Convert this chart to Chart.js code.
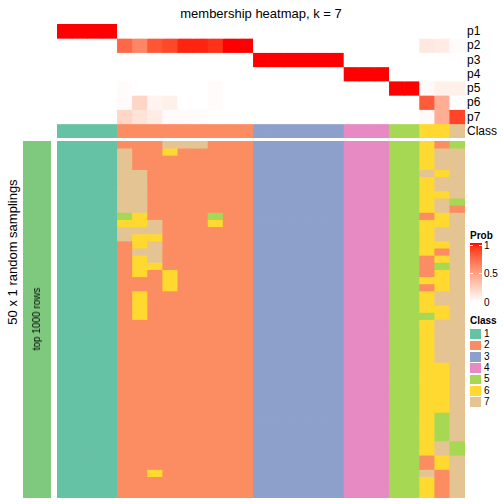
<!DOCTYPE html>
<html><head><meta charset="utf-8">
<script src="https://cdn.jsdelivr.net/npm/chart.js@4/dist/chart.umd.min.js"></script>
<style>
html,body{margin:0;padding:0;background:#fff;}
#root{position:relative;width:504px;height:504px;overflow:hidden;font-family:"Liberation Sans",Arial,Helvetica,sans-serif;color:#000;}
canvas{position:absolute;display:block;}
.t{position:absolute;white-space:nowrap;}
</style></head><body><div id="root">
<canvas id="top" width="408" height="114" style="left:57px;top:24px;width:408px;height:114px"></canvas>
<canvas id="main" width="408" height="357" style="left:57px;top:141px;width:408px;height:357px"></canvas>
<canvas id="strip" width="28" height="357" style="left:23px;top:141px;width:28px;height:357px"></canvas>
</div>
<script>
// ---------- data ----------
const columns = ["s1","s2","s3","s4","s5","s6","s7","s8","s9","s10","s11","s12","s13","s14","s15","s16","s17","s18","s19","s20","s21","s22","s23","s24","s25","s26","s27"];
const probRowNames = ["p1","p2","p3","p4","p5","p6","p7"];
const p1 = [1,1,1,1, 0,0,0,0,0,0,0,0,0, 0,0,0,0,0,0, 0,0,0, 0,0, 0,0,0];
const p2 = [0,0,0,0, 0.75,0.62,0.82,0.87,0.96,0.96,0.93,1,1, 0,0,0,0,0,0, 0,0,0, 0,0, 0.12,0.1,0.02];
const p3 = [0,0,0,0, 0,0,0,0,0,0,0,0,0, 1,1,1,1,1,1, 0,0,0, 0,0, 0,0,0];
const p4 = [0,0,0,0, 0,0,0,0,0,0,0,0,0, 0,0,0,0,0,0, 1,1,1, 0,0, 0,0,0];
const p5 = [0,0,0,0, 0.02,0,0,0,0,0,0.02,0,0, 0,0,0,0,0,0, 0,0,0, 1,1, 0.03,0.08,0.08];
const p6 = [0,0,0,0, 0.02,0.22,0.06,0.08,0,0,0.02,0,0, 0,0,0,0,0,0, 0,0,0, 0,0, 0.8,0.42,0];
const p7 = [0,0,0,0, 0.21,0.15,0.1,0.02,0.02,0.02,0,0,0, 0,0,0,0,0,0, 0,0,0, 0,0, 0.03,0.42,0.88];
const sampleClass = [1,1,1,1, 2,2,2,2,2,2,2,2,2, 3,3,3,3,3,3, 4,4,4, 5,5, 6,6, 7];
// 50 random samplings (rows), one class digit per column
const samplings = [
"111122277722233333344455625",
"111172262222233333344455677",
"111172222222233333344455677",
"111172222222233333344455677",
"111177222222233333344455767",
"111177222222233333344455677",
"111177222222233333344455677",
"111177222222233333344455667",
"111177222222233333344455675",
"111177222222233333344455672",
"111156222252233333344455267",
"111166722262233333344455667",
"111177722222233333344455677",
"111176622222233333344455677",
"111126722222233333344455667",
"111127722222233333344455627",
"111126722222233333344455267",
"111126622222233333344455257",
"111126262222233333344455267",
"111122262222233333344455667",
"111122262222233333344455267",
"111126222222233333344455677",
"111126222222233333344455677",
"111126222222233333344455667",
"111126222222233333344455567",
"111122222222233333344455677",
"111122222222233333344455677",
"111122222222233333344455677",
"111122222222233333344455677",
"111122222222233333344455677",
"111122222222233333344455677",
"111122222222233333344455667",
"111122222222233333344455667",
"111122222222233333344455667",
"111122222222233333344455667",
"111122222222233333344455667",
"111122222222233333344455667",
"111122222222233333344455667",
"111122222222233333344455657",
"111122222222233333344455657",
"111122222222233333344455657",
"111122222222233333344455657",
"111122222222233333344455675",
"111122222222233333344455675",
"111122222222233333344455267",
"111122222222233333344455267",
"111122622222233333344455727",
"111122222222233333344455627",
"111122222222233333344455627",
"111122222222233333344455627"
];
const classLabels = ["1","2","3","4","5","6","7"];
const classColors = ["#66C2A5","#FC8D62","#8DA0CB","#E78AC3","#A6D854","#FFD92F","#E5C494"];
const probTicks = [1, 0.5, 0];
const stripLabel = "top 1000 rows";
const titleText = "membership heatmap, k = 7";
const sideTitle = "50 x 1 random samplings";

// ---------- colour helpers (white -> red in LAB space) ----------
function s2l(c){c/=255;return c<=0.04045?c/12.92:Math.pow((c+0.055)/1.055,2.4);}
function l2s(c){c=Math.max(0,Math.min(1,c));const v=c<=0.0031308?12.92*c:1.055*Math.pow(c,1/2.4)-0.055;return Math.round(Math.max(0,Math.min(1,v))*255);}
function toLab(rgb){const R=s2l(rgb[0]),G=s2l(rgb[1]),B=s2l(rgb[2]);
 const X=(0.4124*R+0.3576*G+0.1805*B)/0.95047,Y=0.2126*R+0.7152*G+0.0722*B,Z=(0.0193*R+0.1192*G+0.9505*B)/1.08883;
 const f=t=>t>0.008856?Math.cbrt(t):(7.787*t+16/116);const fx=f(X),fy=f(Y),fz=f(Z);
 return [116*fy-16,500*(fx-fy),200*(fy-fz)];}
function fromLab(lab){const fy=(lab[0]+16)/116,fx=fy+lab[1]/500,fz=fy-lab[2]/200;
 const fi=t=>{const t3=t*t*t;return t3>0.008856?t3:(t-16/116)/7.787;};
 const X=0.95047*fi(fx),Y=fi(fy),Z=1.08883*fi(fz);
 return [l2s(3.2406*X-1.5372*Y-0.4986*Z),l2s(-0.9689*X+1.8758*Y+0.0415*Z),l2s(0.0557*X-0.2040*Y+1.0570*Z)];}
const LAB0=toLab([255,255,255]), LAB1=toLab([255,0,0]);
function probColor(v){const lab=LAB0.map((a,i)=>a+(LAB1[i]-a)*v);const c=fromLab(lab);return `rgb(${c[0]},${c[1]},${c[2]})`;}
const clsColor = d => classColors[classLabels.indexOf(String(d))];

// ---------- charts ----------
function heat(id, labels, datasets, nRows){
 return new Chart(document.getElementById(id),{
  type:'bar',
  data:{labels, datasets},
  options:{
   responsive:false, animation:false, devicePixelRatio:1, events:[],
   layout:{padding:0},
   plugins:{legend:{display:false},tooltip:{enabled:false},title:{display:false}},
   datasets:{bar:{barPercentage:1,categoryPercentage:1,borderWidth:0,inflateAmount:0.4}},
   scales:{
    x:{display:false,stacked:true},
    y:{display:false,stacked:true,min:0,max:nRows,reverse:true}
   }
  }
 });
}
const probRows=[p1,p2,p3,p4,p5,p6,p7];
const topSets = probRows.map((vals,i)=>({label:probRowNames[i],data:vals.map(()=>1),backgroundColor:vals.map(probColor)}));
topSets.push({label:"Class",data:sampleClass.map(()=>1),backgroundColor:sampleClass.map(clsColor)});
heat('top', columns, topSets, topSets.length);

const mainSets = samplings.map((row,r)=>{const cls=row.split('');return {label:'sampling '+(r+1),data:cls.map(()=>1),backgroundColor:cls.map(clsColor)};});
heat('main', columns, mainSets, samplings.length);

heat('strip', [stripLabel], [{label:stripLabel,data:[1],backgroundColor:'#7FC97F'}], 1);

// ---------- text & legends ----------
const root=document.getElementById('root');
function txt(s, css){const d=document.createElement('div');d.className='t';d.textContent=s;Object.assign(d.style,css);root.appendChild(d);return d;}
txt(titleText,{left:'261px',top:'6.5px',fontSize:'13px',lineHeight:'13px',transform:'translateX(-50%)'});
const rowH=114/8;
[...probRowNames,"Class"].forEach((n,i)=>txt(n,{left:'467px',top:(24+i*rowH)+'px',height:rowH+'px',lineHeight:rowH+'px',fontSize:'12px'}));
txt(sideTitle,{left:'11.5px',top:'252px',fontSize:'13px',lineHeight:'13px',transform:'translate(-50%,-50%) rotate(-90deg)'});
txt(stripLabel,{left:'37px',top:'319px',fontSize:'10px',lineHeight:'10px',transform:'translate(-50%,-50%) rotate(-90deg)'});

// Prob legend
txt("Prob",{left:'470px',top:'231px',fontSize:'10px',lineHeight:'10px',fontWeight:'bold'});
const gTop=243, gBot=302;
const stops=[];for(let k=0;k<=20;k++){const v=k/20;stops.push(probColor(v)+' '+(v*100)+'%');}
const g=document.createElement('div');
Object.assign(g.style,{position:'absolute',left:'470px',top:gTop+'px',width:'11.5px',height:(gBot-gTop)+'px',background:'linear-gradient(to top,'+stops.join(',')+')'});
root.appendChild(g);
const yOf=v=>245+(1-v)*56.6;
probTicks.forEach(v=>{
 const y=yOf(v);
 [470,479].forEach(x=>{const t=document.createElement('div');Object.assign(t.style,{position:'absolute',left:x+'px',top:(y-0.5)+'px',width:'2.5px',height:'1px',background:'#fff'});root.appendChild(t);});
 txt(String(v),{left:'484px',top:(y-4)+'px',fontSize:'10px',lineHeight:'10px'});
});

// Class legend
txt("Class",{left:'470px',top:'316px',fontSize:'10px',lineHeight:'10px',fontWeight:'bold'});
classLabels.forEach((c,i)=>{
 const top=329.3+i*11.35;
 const b=document.createElement('div');
 Object.assign(b.style,{position:'absolute',left:'470px',top:top+'px',width:'11px',height:'9.5px',background:classColors[i]});
 root.appendChild(b);
 txt(c,{left:'484px',top:(top-0.25)+'px',fontSize:'10px',lineHeight:'10px'});
});
</script>
</body></html>
